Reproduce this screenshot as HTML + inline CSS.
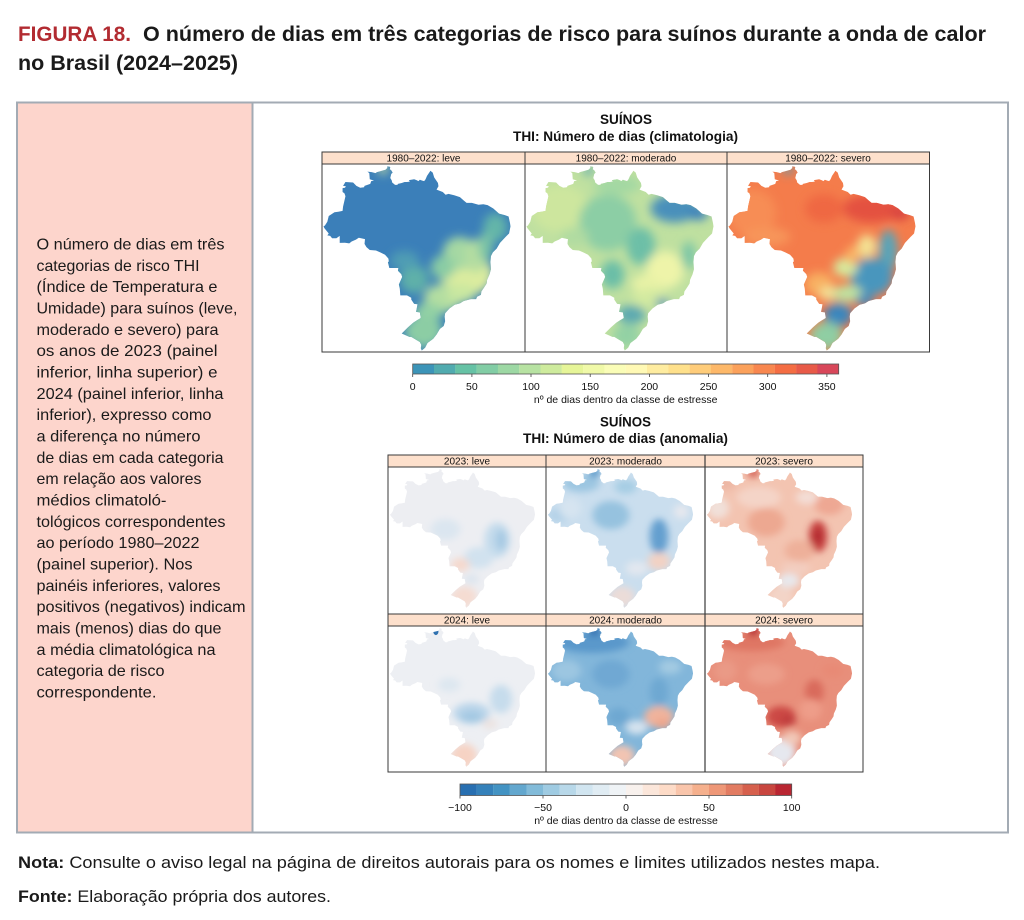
<!DOCTYPE html>
<html><head><meta charset="utf-8"><style>
html,body{margin:0;padding:0;background:#fff;}
svg{display:block;}
.t{font-family:"Liberation Sans",Arial,sans-serif;}
</style></head><body>
<svg width="1024" height="920" viewBox="0 0 1024 920" xmlns="http://www.w3.org/2000/svg">
<defs>
<path id="br" d="M4.1,4.2 L4.6,3.4 6.2,3.5 6.9,4.2 7.7,4.6 8.5,4.5 8.6,4.2 9.8,3.8 10,3.2 10.6,3.1 9.7,2.8 9.6,1.5 9.2,1.2 10.1,1.3 10.9,1.5 11.2,1.3 11.9,1.1 13,0.8 13.4,0.4 13.3,0.1 13.8,0.1 14,0.3 13.9,0.7 14.2,0.9 14.5,1.4 14.2,1.7 14,2.55 14.3,3.05 14.4,3.5 15,4 15.5,4 15.6,3.8 16.4,3.6 17,3.4 17.5,3.4 18.1,3.3 17.9,3 18.4,2.9 19,2.8 19.5,3 19.9,3.2 20.2,2.9 20.7,3.1 21.1,3.2 21.4,2.8 21.7,2.1 22.3,1.2 22.4,1 22.9,1.4 23.2,2.4 24,3.6 24.1,4.3 23.7,5 25,5.5 25.6,6.1 26.2,5.9 27.4,6.2 28.6,6.6 29.4,7.3 30,7.8 31.1,7.8 32.5,8.2 33.5,8.1 34.4,8.3 35.6,9 36.8,10.1 38,10.4 38.8,10.7 39.1,12.1 39.2,12.8 38.9,14.3 38.1,15.1 37,16.3 36.3,17.5 35.5,18.3 35.1,19.1 35,20.3 35.1,21.9 34.8,23 34.3,24.1 34.2,24.9 33.7,25.7 33.1,26.6 33,27.3 32.2,27.7 32,28.2 30.9,28.2 29.4,28.6 28.6,29.1 27.5,29.4 26.4,30.2 25.5,31.2 25.4,31.9 25.5,32.9 25.2,33.9 24.4,34.5 23.7,35.7 23,36.6 21.8,37.5 21.3,38.5 20.6,39.1 20.4,38.6 20.5,37.9 20.2,37.3 19.4,36.8 18.4,36.2 18,36.2 16.4,35.5 17.7,34.2 18.8,33.2 19.4,32.8 20.4,32.2 20.2,31 19.4,30.9 19.6,29.9 19.7,29.3 19,29.2 18.4,28.3 18.4,27.9 17.5,27.4 16.1,27.4 16,26 15.8,25.1 16.5,23.5 16.3,22.9 15.6,22.2 15.7,21.6 13.8,21.6 13.5,20.4 13.7,20.2 13.6,19.6 12.9,18.8 11.9,18.3 11,17.9 9.7,17.8 9,17.2 8.6,16.5 8.7,15.5 7.4,15.2 6.8,15.6 5.9,16 5.4,16.4 4.5,16.25 3.4,16.3 3.4,14.8 2.7,15.3 1.8,15.3 1.4,14.8 0.8,14.7 1.1,14.3 0.2,13.2 0,12.8 0.3,12.6 0.8,11.8 1.1,10.6 2.3,9.8 3.1,9.7 4,9.5 4.1,8.6 4.6,6.4 4.4,5.8 4,5.5 4,4.7 4.5,4.6 4.7,4.3 Z"/>
<clipPath id="cb"><use href="#br"/></clipPath>
<filter id="bl" x="-0.3" y="-0.3" width="1.6" height="1.6"><feGaussianBlur stdDeviation="1.0"/></filter>
</defs>

<!-- Title -->
<text class="t" x="18" y="41" font-size="21" font-weight="bold" fill="#b22b31" textLength="113" lengthAdjust="spacingAndGlyphs">FIGURA 18.</text>
<text class="t" x="143" y="41" font-size="21" font-weight="bold" fill="#1a1a1a" textLength="843" lengthAdjust="spacingAndGlyphs">O número de dias em três categorias de risco para suínos durante a onda de calor</text>
<text class="t" x="18" y="70" font-size="21" font-weight="bold" fill="#1a1a1a" textLength="220" lengthAdjust="spacingAndGlyphs">no Brasil (2024–2025)</text>

<!-- Box -->
<rect x="18" y="103" width="234.5" height="729" fill="#fdd5cc"/>
<rect x="17" y="102.5" width="991" height="730" fill="none" stroke="#a3abb4" stroke-width="2"/>
<line x1="252.5" y1="103" x2="252.5" y2="832" stroke="#a3abb4" stroke-width="2"/>

<!-- Left text -->
<g class="t" font-size="16" fill="#1a1a1a">
<text x="36.5" y="249.5" textLength="188" lengthAdjust="spacingAndGlyphs">O número de dias em três</text>
<text x="36.5" y="270.8" textLength="163" lengthAdjust="spacingAndGlyphs">categorias de risco THI</text>
<text x="36.5" y="292.2" textLength="181" lengthAdjust="spacingAndGlyphs">(Índice de Temperatura e</text>
<text x="36.5" y="313.5" textLength="201" lengthAdjust="spacingAndGlyphs">Umidade) para suínos (leve,</text>
<text x="36.5" y="334.8" textLength="182" lengthAdjust="spacingAndGlyphs">moderado e severo) para</text>
<text x="36.5" y="356.2" textLength="181" lengthAdjust="spacingAndGlyphs">os anos de 2023 (painel</text>
<text x="36.5" y="377.5" textLength="181" lengthAdjust="spacingAndGlyphs">inferior, linha superior) e</text>
<text x="36.5" y="398.8" textLength="187" lengthAdjust="spacingAndGlyphs">2024 (painel inferior, linha</text>
<text x="36.5" y="420.1" textLength="175" lengthAdjust="spacingAndGlyphs">inferior), expresso como</text>
<text x="36.5" y="441.5" textLength="164" lengthAdjust="spacingAndGlyphs">a diferença no número</text>
<text x="36.5" y="462.8" textLength="187" lengthAdjust="spacingAndGlyphs">de dias em cada categoria</text>
<text x="36.5" y="484.1" textLength="165" lengthAdjust="spacingAndGlyphs">em relação aos valores</text>
<text x="36.5" y="505.5" textLength="130" lengthAdjust="spacingAndGlyphs">médios climatoló-</text>
<text x="36.5" y="526.8" textLength="189" lengthAdjust="spacingAndGlyphs">tológicos correspondentes</text>
<text x="36.5" y="548.1" textLength="163" lengthAdjust="spacingAndGlyphs">ao período 1980–2022</text>
<text x="36.5" y="569.5" textLength="156" lengthAdjust="spacingAndGlyphs">(painel superior). Nos</text>
<text x="36.5" y="590.8" textLength="184" lengthAdjust="spacingAndGlyphs">painéis inferiores, valores</text>
<text x="36.5" y="612.1" textLength="209" lengthAdjust="spacingAndGlyphs">positivos (negativos) indicam</text>
<text x="36.5" y="633.5" textLength="185" lengthAdjust="spacingAndGlyphs">mais (menos) dias do que</text>
<text x="36.5" y="654.8" textLength="179" lengthAdjust="spacingAndGlyphs">a média climatológica na</text>
<text x="36.5" y="676.1" textLength="128" lengthAdjust="spacingAndGlyphs">categoria de risco</text>
<text x="36.5" y="697.5" textLength="120" lengthAdjust="spacingAndGlyphs">correspondente.</text>
</g>

<!-- Top chart titles -->
<text class="t" x="600" y="124" font-size="13.5" font-weight="bold" fill="#111" textLength="52" lengthAdjust="spacingAndGlyphs">SUÍNOS</text>
<text class="t" x="513" y="141" font-size="13.5" font-weight="bold" fill="#111" textLength="225" lengthAdjust="spacingAndGlyphs">THI: Número de dias (climatologia)</text>

<!-- Top maps -->
<!-- leve -->
<g transform="translate(323.5,166) scale(4.77,4.72)"><g clip-path="url(#cb)">
<rect x="-1" y="-1" width="42" height="42" fill="#3b7fb9"/>
<g filter="url(#bl)">
<ellipse cx="30" cy="23" rx="5.5" ry="4.5" fill="#dcec9f"/>
<ellipse cx="28.5" cy="18.5" rx="3.5" ry="3.5" fill="#a5d8a3"/>
<ellipse cx="32" cy="19" rx="2.5" ry="3.5" fill="#b4dda1"/>
<ellipse cx="25" cy="21.5" rx="2.5" ry="2.5" fill="#8acca4"/>
<ellipse cx="19" cy="24" rx="3" ry="3" fill="#5fb0a9"/>
<ellipse cx="25" cy="28" rx="4" ry="3" fill="#b4dea1"/>
<ellipse cx="22" cy="31" rx="3" ry="2" fill="#93d1a4"/>
<ellipse cx="21" cy="35" rx="4" ry="3.5" fill="#8ccda4"/>
<ellipse cx="36" cy="13" rx="2.5" ry="3" fill="#63b5a9"/>
<ellipse cx="17" cy="20" rx="3" ry="2" fill="#4f9db4"/>
<ellipse cx="12.5" cy="0.7" rx="1" ry="1" fill="#d9ea9e"/>
<ellipse cx="29" cy="27" rx="3" ry="2" fill="#c9e7a0"/>
<ellipse cx="34" cy="17" rx="1.5" ry="3" fill="#7cc4a6"/>
</g></g></g>
<!-- moderado -->
<g transform="translate(526.5,166) scale(4.77,4.72)"><g clip-path="url(#cb)">
<rect x="-1" y="-1" width="42" height="42" fill="#bfe0a0"/>
<g filter="url(#bl)">
<ellipse cx="7" cy="9" rx="6" ry="5" fill="#cde69e"/>
<ellipse cx="17" cy="12" rx="6" ry="6" fill="#8ccea5"/>
<ellipse cx="31" cy="9" rx="5" ry="3" fill="#4a90bb"/>
<ellipse cx="36" cy="10" rx="2" ry="1.5" fill="#3b80bc"/>
<ellipse cx="24" cy="17" rx="3" ry="4" fill="#6dbfa7"/>
<ellipse cx="18" cy="23" rx="2.5" ry="3" fill="#6bbea7"/>
<ellipse cx="29" cy="22" rx="4" ry="4" fill="#eef4a9"/>
<ellipse cx="25" cy="25" rx="3" ry="2" fill="#e8f2a6"/>
<ellipse cx="34" cy="19" rx="1.5" ry="3" fill="#7cc6a6"/>
<ellipse cx="26" cy="28" rx="4" ry="2" fill="#d3eaa0"/>
<ellipse cx="28.5" cy="29" rx="1.5" ry="1" fill="#4d92bb"/>
<ellipse cx="22" cy="31.5" rx="3" ry="2" fill="#5ba9b1"/>
<ellipse cx="21" cy="36" rx="3" ry="2.5" fill="#93d1a4"/>
<ellipse cx="19" cy="4" rx="5" ry="2" fill="#a3d8a3"/>
<ellipse cx="13" cy="1" rx="1" ry="1" fill="#5aa6b3"/>
<ellipse cx="10" cy="15" rx="3" ry="2" fill="#b0dba1"/>
</g></g></g>
<!-- severo -->
<g transform="translate(728.5,166) scale(4.77,4.72)"><g clip-path="url(#cb)">
<rect x="-1" y="-1" width="42" height="42" fill="#f47c4b"/>
<g filter="url(#bl)">
<ellipse cx="5" cy="10" rx="5" ry="5" fill="#f78d55"/>
<ellipse cx="30" cy="9" rx="6" ry="3" fill="#e4513f"/>
<ellipse cx="36" cy="10" rx="2" ry="1.5" fill="#d8433f"/>
<ellipse cx="20" cy="9" rx="4" ry="3" fill="#ef6843"/>
<ellipse cx="33.5" cy="18" rx="2" ry="4.5" fill="#5aa4b8"/>
<ellipse cx="29" cy="17" rx="2" ry="2.5" fill="#f3e193"/>
<ellipse cx="30" cy="23.5" rx="4.5" ry="4" fill="#4a96bd"/>
<ellipse cx="24.5" cy="21.5" rx="2.5" ry="2" fill="#d5eb9e"/>
<ellipse cx="19" cy="25" rx="3" ry="2.5" fill="#f8b062"/>
<ellipse cx="21" cy="27" rx="2" ry="1.5" fill="#f3e197"/>
<ellipse cx="25" cy="27" rx="3" ry="1.8" fill="#bfe3a0"/>
<ellipse cx="28.5" cy="28.5" rx="2" ry="1.2" fill="#3f8abd"/>
<ellipse cx="23" cy="31.5" rx="3" ry="2.5" fill="#3a86bd"/>
<ellipse cx="20.5" cy="36" rx="3.5" ry="3" fill="#8fcea3"/>
<ellipse cx="12.5" cy="0.8" rx="1" ry="1" fill="#4f9cb9"/>
<ellipse cx="8" cy="15" rx="5" ry="2" fill="#f7955a"/>
<ellipse cx="26" cy="19" rx="1.5" ry="2" fill="#f9b365"/>
</g></g></g>

<!-- Top panel frames -->
<rect x="322" y="152" width="607.5" height="12" fill="#fde0cc"/>
<rect x="322" y="152" width="607.5" height="200" fill="none" stroke="#3a3a3a" stroke-width="1"/>
<line x1="322" y1="164" x2="929.5" y2="164" stroke="#3a3a3a" stroke-width="1"/>
<line x1="525" y1="152" x2="525" y2="352" stroke="#3a3a3a" stroke-width="1"/>
<line x1="727" y1="152" x2="727" y2="352" stroke="#3a3a3a" stroke-width="1"/>
<g class="t" font-size="10" fill="#111" text-anchor="middle">
<text x="423.5" y="161.5">1980–2022: leve</text>
<text x="626" y="161.5">1980–2022: moderado</text>
<text x="828" y="161.5">1980–2022: severo</text>
</g>

<!-- Top colorbar -->
<g>
<rect x="412.7" y="364" width="21.4" height="10" fill="#3c94b8"/>
<rect x="434" y="364" width="21.4" height="10" fill="#51abaf"/>
<rect x="455.3" y="364" width="21.4" height="10" fill="#66c2a5"/>
<rect x="476.6" y="364" width="21.4" height="10" fill="#82cda5"/>
<rect x="497.9" y="364" width="21.4" height="10" fill="#9dd8a4"/>
<rect x="519.2" y="364" width="21.4" height="10" fill="#b7e2a2"/>
<rect x="540.5" y="364" width="21.4" height="10" fill="#ceeb9d"/>
<rect x="561.8" y="364" width="21.4" height="10" fill="#e6f598"/>
<rect x="583.1" y="364" width="21.4" height="10" fill="#f0f9a8"/>
<rect x="604.4" y="364" width="21.4" height="10" fill="#fafdb7"/>
<rect x="625.7" y="364" width="21.4" height="10" fill="#fff9b5"/>
<rect x="647" y="364" width="21.4" height="10" fill="#feeca0"/>
<rect x="668.3" y="364" width="21.4" height="10" fill="#fee08b"/>
<rect x="689.6" y="364" width="21.4" height="10" fill="#fecc7a"/>
<rect x="710.9" y="364" width="21.4" height="10" fill="#fdb869"/>
<rect x="732.2" y="364" width="21.4" height="10" fill="#fba15b"/>
<rect x="753.5" y="364" width="21.4" height="10" fill="#f8874f"/>
<rect x="774.8" y="364" width="21.4" height="10" fill="#f46d43"/>
<rect x="796.1" y="364" width="21.4" height="10" fill="#e85a48"/>
<rect x="817.4" y="364" width="21.3" height="10" fill="#d8475a"/>
<rect x="412.7" y="364" width="426" height="10" fill="none" stroke="#555" stroke-width="0.8"/>
<g stroke="#444" stroke-width="0.8">
<line x1="412.7" y1="374" x2="412.7" y2="377"/><line x1="471.9" y1="374" x2="471.9" y2="377"/><line x1="531" y1="374" x2="531" y2="377"/><line x1="590.2" y1="374" x2="590.2" y2="377"/><line x1="649.4" y1="374" x2="649.4" y2="377"/><line x1="708.5" y1="374" x2="708.5" y2="377"/><line x1="767.7" y1="374" x2="767.7" y2="377"/><line x1="826.9" y1="374" x2="826.9" y2="377"/>
</g>
<g class="t" font-size="10.5" fill="#111" text-anchor="middle">
<text x="412.7" y="390">0</text><text x="471.9" y="390">50</text><text x="531" y="390">100</text><text x="590.2" y="390">150</text><text x="649.4" y="390">200</text><text x="708.5" y="390">250</text><text x="767.7" y="390">300</text><text x="826.9" y="390">350</text>
<text x="625.7" y="403">nº de dias dentro da classe de estresse</text>
</g>
</g>

<!-- Lower titles -->
<text class="t" x="600" y="426.5" font-size="13.5" font-weight="bold" fill="#111" textLength="51" lengthAdjust="spacingAndGlyphs">SUÍNOS</text>
<text class="t" x="523" y="443" font-size="13.5" font-weight="bold" fill="#111" textLength="205" lengthAdjust="spacingAndGlyphs">THI: Número de dias (anomalia)</text>

<!-- Lower maps row 1 -->
<g transform="translate(390,469) scale(3.70,3.55)"><g clip-path="url(#cb)">
<rect x="-1" y="-1" width="42" height="42" fill="#edeef2"/>
<g filter="url(#bl)">
<ellipse cx="29" cy="20" rx="3.5" ry="5" fill="#c4dbec"/>
<ellipse cx="30" cy="20" rx="1.5" ry="3" fill="#a6c9e3"/>
<ellipse cx="24" cy="25" rx="4" ry="3" fill="#d1e2ef"/>
<ellipse cx="19" cy="27" rx="2.5" ry="2" fill="#f5d9ce"/>
<ellipse cx="20" cy="36" rx="3.5" ry="3" fill="#f5dcd2"/>
<ellipse cx="15" cy="17" rx="4" ry="3" fill="#dbe6f0"/>
<ellipse cx="22" cy="31" rx="2" ry="1.5" fill="#dde5ee"/>
</g></g></g>
<g transform="translate(548,469) scale(3.70,3.55)"><g clip-path="url(#cb)">
<rect x="-1" y="-1" width="42" height="42" fill="#cadeee"/>
<g filter="url(#bl)">
<ellipse cx="9" cy="4" rx="5" ry="2.5" fill="#9cc6e1"/>
<ellipse cx="12.5" cy="1" rx="1.5" ry="1.5" fill="#5597c9"/>
<ellipse cx="17" cy="13" rx="5" ry="4" fill="#96c2df"/>
<ellipse cx="30" cy="19" rx="2.5" ry="5" fill="#649fcf"/>
<ellipse cx="30" cy="26" rx="3" ry="2.5" fill="#f2d2c4"/>
<ellipse cx="20" cy="36" rx="3.5" ry="3" fill="#ebdcd8"/>
<ellipse cx="3" cy="13" rx="3" ry="2" fill="#b4d2e8"/>
<ellipse cx="21" cy="5" rx="3" ry="2" fill="#a6cde4"/>
<ellipse cx="36" cy="12" rx="2" ry="2" fill="#e6e8ee"/>
<ellipse cx="24" cy="28" rx="3" ry="2" fill="#e2e7ef"/>
<ellipse cx="6" cy="11" rx="3" ry="3" fill="#d6e4f0"/>
</g></g></g>
<g transform="translate(707,469) scale(3.70,3.55)"><g clip-path="url(#cb)">
<rect x="-1" y="-1" width="42" height="42" fill="#f3c4b1"/>
<g filter="url(#bl)">
<ellipse cx="12.5" cy="1" rx="1.5" ry="1.5" fill="#d35e53"/>
<ellipse cx="5" cy="4" rx="3" ry="2" fill="#edb7a4"/>
<ellipse cx="3" cy="11" rx="3" ry="3" fill="#f1e0d9"/>
<ellipse cx="14" cy="8" rx="6" ry="3" fill="#f4d4c7"/>
<ellipse cx="16" cy="15" rx="5" ry="4" fill="#eda891"/>
<ellipse cx="30" cy="19" rx="2.5" ry="4.5" fill="#c8423f"/>
<ellipse cx="30" cy="19" rx="1.2" ry="2.5" fill="#b22a33"/>
<ellipse cx="25" cy="23" rx="4" ry="3" fill="#eeb09a"/>
<ellipse cx="24" cy="28" rx="4" ry="2" fill="#f3cdbf"/>
<ellipse cx="22" cy="31.5" rx="3" ry="2" fill="#e8e8ec"/>
<ellipse cx="20" cy="36" rx="3.5" ry="3" fill="#f3d4c7"/>
<ellipse cx="33" cy="10" rx="4" ry="3" fill="#eea793"/>
<ellipse cx="27" cy="8" rx="3" ry="2" fill="#f3ddd5"/>
</g></g></g>

<!-- Lower maps row 2 -->
<g transform="translate(390,628) scale(3.70,3.55)"><g clip-path="url(#cb)">
<rect x="-1" y="-1" width="42" height="42" fill="#edeff3"/>
<g filter="url(#bl)">
<ellipse cx="22" cy="24" rx="5" ry="3" fill="#bcd6ea"/>
<ellipse cx="22" cy="25" rx="3" ry="1.8" fill="#a4c9e3"/>
<ellipse cx="30" cy="20" rx="3" ry="4" fill="#c6dcec"/>
<ellipse cx="20" cy="36" rx="3.5" ry="3.5" fill="#f6d3c4"/>
<ellipse cx="27" cy="27" rx="2" ry="1.5" fill="#ece3e1"/>
<ellipse cx="16" cy="16" rx="3" ry="2" fill="#dde7f0"/>
</g>
<ellipse cx="12.4" cy="1" rx="0.7" ry="1" fill="#2f71b0"/>
</g></g>
<g transform="translate(548,628) scale(3.70,3.55)"><g clip-path="url(#cb)">
<rect x="-1" y="-1" width="42" height="42" fill="#82b6da"/>
<g filter="url(#bl)">
<ellipse cx="12" cy="4" rx="10" ry="3" fill="#5a98cb"/>
<ellipse cx="12.5" cy="0.8" rx="1.5" ry="1.5" fill="#2e6dae"/>
<ellipse cx="17" cy="13" rx="5" ry="4" fill="#6fa8d3"/>
<ellipse cx="5" cy="12" rx="4" ry="3" fill="#9cc6e1"/>
<ellipse cx="30" cy="18" rx="2.5" ry="4" fill="#6ea8d2"/>
<ellipse cx="30" cy="25" rx="4" ry="3" fill="#f0b39c"/>
<ellipse cx="31" cy="27" rx="2" ry="1.5" fill="#eea68c"/>
<ellipse cx="24" cy="28" rx="3" ry="2" fill="#d4e2ee"/>
<ellipse cx="20" cy="36" rx="3.5" ry="3" fill="#f2c4b2"/>
<ellipse cx="19" cy="25" rx="3" ry="2.5" fill="#6ea8d2"/>
<ellipse cx="33" cy="11" rx="3" ry="2" fill="#a3cae2"/>
</g></g></g>
<g transform="translate(707,628) scale(3.70,3.55)"><g clip-path="url(#cb)">
<rect x="-1" y="-1" width="42" height="42" fill="#e88f7b"/>
<g filter="url(#bl)">
<ellipse cx="12" cy="4" rx="9" ry="2.5" fill="#df7663"/>
<ellipse cx="12.5" cy="0.8" rx="1.5" ry="1.5" fill="#b2182b"/>
<ellipse cx="16" cy="13" rx="5" ry="3" fill="#ec9e8a"/>
<ellipse cx="29" cy="18" rx="2.5" ry="3.5" fill="#d96b5c"/>
<ellipse cx="20" cy="25" rx="4" ry="3" fill="#cc4a45"/>
<ellipse cx="22" cy="26" rx="2" ry="1.5" fill="#c03c3e"/>
<ellipse cx="28" cy="23" rx="3" ry="3" fill="#ee9d89"/>
<ellipse cx="20" cy="35" rx="4" ry="4" fill="#e6e8ef"/>
<ellipse cx="23" cy="31" rx="2.5" ry="2" fill="#f1c8b8"/>
<ellipse cx="5" cy="12" rx="3" ry="3" fill="#ea9a86"/>
<ellipse cx="34" cy="12" rx="3" ry="2" fill="#e88a76"/>
</g></g></g>

<!-- Lower panel frames -->
<rect x="388" y="455" width="475" height="12" fill="#fde0cc"/>
<rect x="388" y="614" width="475" height="12" fill="#fde0cc"/>
<rect x="388" y="455" width="475" height="317" fill="none" stroke="#3a3a3a" stroke-width="1"/>
<line x1="388" y1="467" x2="863" y2="467" stroke="#3a3a3a" stroke-width="1"/>
<line x1="388" y1="614" x2="863" y2="614" stroke="#3a3a3a" stroke-width="1"/>
<line x1="388" y1="626" x2="863" y2="626" stroke="#3a3a3a" stroke-width="1"/>
<line x1="546" y1="455" x2="546" y2="772" stroke="#3a3a3a" stroke-width="1"/>
<line x1="705" y1="455" x2="705" y2="772" stroke="#3a3a3a" stroke-width="1.2"/>
<g class="t" font-size="10" fill="#111" text-anchor="middle">
<text x="467" y="464.5">2023: leve</text>
<text x="625.5" y="464.5">2023: moderado</text>
<text x="784" y="464.5">2023: severo</text>
<text x="467" y="623.5">2024: leve</text>
<text x="625.5" y="623.5">2024: moderado</text>
<text x="784" y="623.5">2024: severo</text>
</g>

<!-- Lower colorbar -->
<g>
<rect x="460" y="784" width="16.7" height="11.5" fill="#286fb1"/>
<rect x="476.6" y="784" width="16.7" height="11.5" fill="#3581ba"/>
<rect x="493.2" y="784" width="16.7" height="11.5" fill="#4393c3"/>
<rect x="509.8" y="784" width="16.7" height="11.5" fill="#63a7ce"/>
<rect x="526.4" y="784" width="16.7" height="11.5" fill="#82bbd9"/>
<rect x="543" y="784" width="16.7" height="11.5" fill="#9fcbe2"/>
<rect x="559.6" y="784" width="16.7" height="11.5" fill="#b8d8e9"/>
<rect x="576.2" y="784" width="16.7" height="11.5" fill="#d1e5f0"/>
<rect x="592.8" y="784" width="16.7" height="11.5" fill="#e0ecf3"/>
<rect x="609.4" y="784" width="16.7" height="11.5" fill="#eff3f6"/>
<rect x="626" y="784" width="16.7" height="11.5" fill="#f8f1ed"/>
<rect x="642.6" y="784" width="16.7" height="11.5" fill="#fbe6da"/>
<rect x="659.2" y="784" width="16.7" height="11.5" fill="#fddbc7"/>
<rect x="675.8" y="784" width="16.7" height="11.5" fill="#f9c5ab"/>
<rect x="692.4" y="784" width="16.7" height="11.5" fill="#f5b08d"/>
<rect x="709" y="784" width="16.7" height="11.5" fill="#ee9777"/>
<rect x="725.6" y="784" width="16.7" height="11.5" fill="#e27c62"/>
<rect x="742.2" y="784" width="16.7" height="11.5" fill="#d6604d"/>
<rect x="758.8" y="784" width="16.7" height="11.5" fill="#c8463f"/>
<rect x="775.4" y="784" width="16.3" height="11.5" fill="#b92632"/>
<rect x="460" y="784" width="331.7" height="11.5" fill="none" stroke="#555" stroke-width="0.8"/>
<g stroke="#444" stroke-width="0.8">
<line x1="460" y1="795.5" x2="460" y2="798.5"/><line x1="543" y1="795.5" x2="543" y2="798.5"/><line x1="626" y1="795.5" x2="626" y2="798.5"/><line x1="709" y1="795.5" x2="709" y2="798.5"/><line x1="791.7" y1="795.5" x2="791.7" y2="798.5"/>
</g>
<g class="t" font-size="10.5" fill="#111" text-anchor="middle">
<text x="460" y="811">−100</text><text x="543" y="811">−50</text><text x="626" y="811">0</text><text x="709" y="811">50</text><text x="791.7" y="811">100</text>
<text x="626" y="824">nº de dias dentro da classe de estresse</text>
</g>
</g>

<!-- Footer -->
<text class="t" x="18" y="868" font-size="17" fill="#1a1a1a" textLength="862" lengthAdjust="spacingAndGlyphs"><tspan font-weight="bold">Nota:</tspan> Consulte o aviso legal na página de direitos autorais para os nomes e limites utilizados nestes mapa.</text>
<text class="t" x="18" y="902" font-size="17" fill="#1a1a1a" textLength="313" lengthAdjust="spacingAndGlyphs"><tspan font-weight="bold">Fonte:</tspan> Elaboração própria dos autores.</text>
</svg>
</body></html>
